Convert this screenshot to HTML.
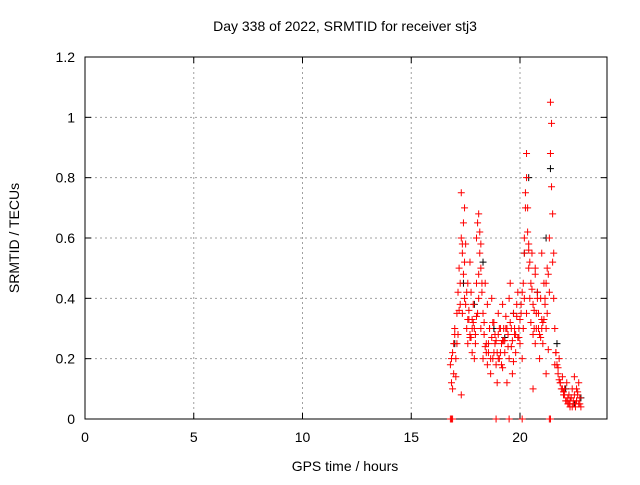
<!DOCTYPE html>
<html><head><meta charset="utf-8"><style>
body{margin:0;background:#fff}
svg{font-family:"Liberation Sans",sans-serif;font-size:14px}
</style></head><body>
<svg id="c" width="640" height="480" xmlns="http://www.w3.org/2000/svg">
<rect width="640" height="480" fill="#fff"/>
<text x="345" y="31" text-anchor="middle">Day 338 of 2022, SRMTID for receiver stj3</text>
<text x="345" y="471" text-anchor="middle">GPS time / hours</text>
<text transform="translate(19,238) rotate(-90)" text-anchor="middle">SRMTID / TECUs</text>
<g id="grid"></g><g id="axes"></g><g id="marks"></g>
</svg>
<script>
const xTicks=[0,5,10,15,20];
const yTicks=[0,0.2,0.4,0.6,0.8,1,1.2];
const yTickLabels=["0","0.2","0.4","0.6","0.8","1","1.2"];
const redT=[16.8,16.85,16.9,16.95,17.0,17.05,17.1,16.9,17.0,17.1,17.15,17.2,17.25,17.3,17.3,17.35,17.35,17.4,17.4,17.45,17.5,17.5,17.55,17.6,17.6,17.65,17.7,17.7,17.75,17.8,17.8,17.85,17.9,17.9,17.95,18.0,18.0,18.05,18.1,18.1,18.15,18.2,18.2,18.25,18.3,18.3,18.35,18.4,18.45,18.5,18.5,18.55,18.6,18.65,18.7,18.7,18.75,18.8,18.85,18.9,18.95,19.0,19.0,19.05,19.1,19.15,19.2,19.2,19.25,19.3,19.35,19.4,19.45,19.5,19.5,19.55,19.6,19.65,19.7,19.75,19.8,19.85,19.9,19.95,20.0,20.05,20.1,20.1,20.15,20.2,20.2,20.25,20.3,20.3,20.35,20.4,20.4,20.45,20.5,20.5,20.55,20.6,20.65,20.7,20.7,20.75,20.8,20.85,20.9,20.9,20.95,21.0,21.0,21.05,21.1,21.15,21.2,21.2,21.25,21.3,21.35,21.35,21.4,21.4,21.45,21.45,21.5,21.5,21.55,21.6,21.65,21.7,21.75,21.8,21.85,21.9,21.95,22.0,22.05,22.1,22.15,22.2,22.25,22.3,22.35,22.4,22.45,22.5,22.55,22.6,22.65,22.7,22.75,22.8,22.3,22.5,22.7,22.6,17.3,17.45,17.7,18.0,18.2,19.3,19.8,20.6,21.1,21.3];
const redV=[0.18,0.12,0.22,0.15,0.28,0.2,0.25,0.1,0.3,0.35,0.42,0.5,0.45,0.6,0.75,0.55,0.35,0.48,0.65,0.4,0.38,0.58,0.3,0.45,0.25,0.36,0.52,0.28,0.42,0.33,0.22,0.38,0.2,0.3,0.25,0.6,0.45,0.65,0.68,0.4,0.55,0.5,0.3,0.42,0.35,0.2,0.28,0.45,0.25,0.18,0.38,0.22,0.3,0.15,0.27,0.4,0.2,0.32,0.25,0.18,0.12,0.28,0.35,0.2,0.3,0.25,0.38,0.17,0.3,0.22,0.34,0.12,0.28,0.4,0.2,0.45,0.3,0.15,0.35,0.28,0.22,0.38,0.42,0.3,0.25,0.35,0.42,0.2,0.3,0.55,0.6,0.75,0.8,0.88,0.7,0.5,0.58,0.4,0.32,0.45,0.55,0.38,0.3,0.48,0.25,0.35,0.42,0.3,0.28,0.2,0.4,0.55,0.33,0.25,0.45,0.38,0.15,0.3,0.5,0.23,0.6,0.42,0.88,1.05,0.98,0.77,0.68,0.52,0.4,0.3,0.22,0.18,0.15,0.2,0.12,0.1,0.14,0.08,0.1,0.06,0.12,0.05,0.08,0.04,0.07,0.1,0.05,0.08,0.04,0.06,0.09,0.05,0.07,0.04,0.06,0.14,0.12,0.1,0.08,0.7,0.27,0.34,0.58,0.26,0.28,0.1,0.33,0.48,0.34,0.26];
const redT2=[16.85,16.95,17.05,17.15,17.25,17.35,17.45,17.55,17.65,17.75,17.85,17.95,18.05,18.15,18.25,18.35,18.45,18.55,18.65,18.75,18.85,18.95,19.05,19.15,19.25,19.35,19.45,19.55,19.65,19.75,19.85,19.95,20.05,20.15,20.25,20.35,20.45,20.55,20.65,20.75,20.85,20.95,21.05,21.15,21.25,21.55,21.65,21.75,21.85,21.95,22.05,22.15,22.25,22.35,22.45,22.55,22.65,22.75,17.2,17.6,17.8,18.1,18.4,18.6,18.8,19.0,19.2,19.4,19.6,19.9,20.0,20.2,20.4,20.6,20.8,21.0,21.2,21.6,21.8,22.0,22.2,22.4,22.6,18.9,19.1,19.7,20.3,20.7];
const redV2=[0.2,0.25,0.14,0.28,0.38,0.58,0.52,0.42,0.33,0.27,0.32,0.28,0.35,0.62,0.45,0.32,0.22,0.25,0.2,0.32,0.28,0.22,0.3,0.18,0.26,0.3,0.24,0.32,0.26,0.3,0.34,0.27,0.38,0.45,0.7,0.62,0.52,0.43,0.36,0.3,0.35,0.27,0.32,0.4,0.35,0.55,0.22,0.17,0.12,0.1,0.08,0.06,0.05,0.07,0.06,0.05,0.08,0.05,0.36,0.33,0.3,0.48,0.24,0.3,0.22,0.2,0.26,0.3,0.24,0.27,0.33,0.4,0.56,0.28,0.4,0.3,0.45,0.18,0.13,0.09,0.07,0.04,0.06,0.26,0.22,0.19,0.35,0.5];
const blackT=[17.0,17.4,17.9,18.3,18.8,19.3,19.7,20.2,20.4,20.8,21.2,21.4,21.7,22.1,22.5,22.8];
const blackV=[0.25,0.45,0.38,0.52,0.3,0.27,0.35,0.55,0.8,0.42,0.6,0.83,0.25,0.1,0.05,0.07];
const zeroT=[16.8,16.85,16.9,18.9,19.5,20.1,21.35,21.4];
const X0=85,X1=607,Y0=419,Y1=57;
const sx=v=>X0+v*(X1-X0)/24, sy=v=>Y0-v*(Y0-Y1)/1.2;
const NS="http://www.w3.org/2000/svg";
function mk(t,a,p){const e=document.createElementNS(NS,t);for(const k in a)e.setAttribute(k,a[k]);p.appendChild(e);return e;}
const grid=document.getElementById('grid'),axes=document.getElementById('axes'),marks=document.getElementById('marks');
xTicks.forEach(v=>{const x=sx(v);
 if(v>0){const l=mk('line',{x1:x,x2:x,y1:Y1,y2:Y0,stroke:'#a0a0a0','stroke-dasharray':'2,3'},grid);
 }
 const t=mk('text',{x:x,y:Y0+23,'text-anchor':'middle'},axes);t.textContent=v;
 
 mk('line',{x1:x,x2:x,y1:Y0,y2:Y0-6,stroke:'#000'},axes);mk('line',{x1:x,x2:x,y1:Y1,y2:Y1+6,stroke:'#000'},axes);});
yTicks.forEach((v,i)=>{const y=sy(v);
 if(v>0&&v<1.2){const l=mk('line',{x1:X0,x2:X1,y1:y,y2:y,stroke:'#a0a0a0','stroke-dasharray':'2,3'},grid);
 }
 const t=mk('text',{x:X0-10,y:y+5,'text-anchor':'end'},axes);t.textContent=yTickLabels[i];
 
 mk('line',{x1:X0,x2:X0+6,y1:y,y2:y,stroke:'#000'},axes);mk('line',{x1:X1,x2:X1-6,y1:y,y2:y,stroke:'#000'},axes);});
const fr=mk('rect',{x:X0,y:Y1,width:X1-X0,height:Y0-Y1,fill:'none',stroke:'#000'},axes);

function plus(t,v,c,name){const x=sx(t),y=sy(v);
 const p=mk('path',{d:`M${x-3.5},${y}H${x+3.5}M${x},${y-3.5}V${y+3.5}`,stroke:c,'stroke-width':1},marks);
 }
blackT.forEach((t,i)=>plus(t,blackV[i],'#000','black-point'));
redT.forEach((t,i)=>plus(t,redV[i],'#f00','red-point'));
redT2.forEach((t,i)=>plus(t,redV2[i],'#f00','red-point'));
zeroT.forEach(t=>plus(t,0,'#f00','zero-point'));
</script>
</body></html>
